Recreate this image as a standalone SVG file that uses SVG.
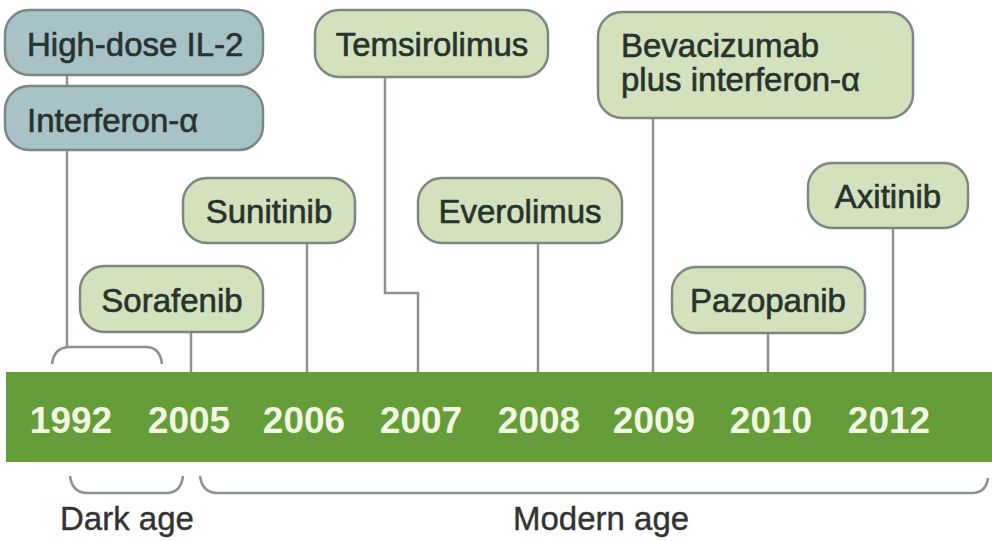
<svg xmlns="http://www.w3.org/2000/svg" width="992" height="541" viewBox="0 0 992 541">
<style>
.box{stroke:#7c8780;stroke-width:2.5}
.blue{fill:#a8c3c6}
.green{fill:#d3e2bd}
.lbl{font-family:"Liberation Sans",Arial,sans-serif;font-size:33px;fill:#26332e;stroke:#26332e;stroke-width:0.6}
.yr{font-family:"Liberation Sans",Arial,sans-serif;font-size:37px;font-weight:bold;fill:#f2f7e3;text-anchor:middle}
.age{font-family:"Liberation Sans",Arial,sans-serif;font-size:33px;fill:#333;stroke:#333;stroke-width:0.4}
.ln{fill:none;stroke:#8c9291;stroke-width:2.5}
</style>
<rect width="992" height="541" fill="#ffffff"/>
<g id="timeline-bar">
<rect x="6" y="372" width="990" height="90" fill="#659d38"/>
<text class="yr" x="71" y="433">1992</text>
<text class="yr" x="189" y="433">2005</text>
<text class="yr" x="304" y="433">2006</text>
<text class="yr" x="421" y="433">2007</text>
<text class="yr" x="539" y="433">2008</text>
<text class="yr" x="654" y="433">2009</text>
<text class="yr" x="771" y="433">2010</text>
<text class="yr" x="889" y="433">2012</text>
</g>
<g id="connectors">
<path class="ln" d="M67 75V86"/>
<path class="ln" d="M67 150V347"/>
<path class="ln" d="M52 364Q54 347 70 347H146Q160 347 162 364"/>
<path class="ln" d="M191 332V372"/>
<path class="ln" d="M307 243V372"/>
<path class="ln" d="M385 77V293H418V372"/>
<path class="ln" d="M538 243V372"/>
<path class="ln" d="M653 118V372"/>
<path class="ln" d="M768 333V372"/>
<path class="ln" d="M893 228V372"/>
<path class="ln" d="M70 476Q72 493 88 493H166Q181 493 183 476"/>
<path class="ln" d="M200 476Q202 493 218 493H972Q986 493 988 478"/>
</g>
<g id="node-il2">
<rect class="box blue" x="5" y="10" width="258" height="65" rx="24"/>
<text class="lbl" x="27" y="56">High-dose IL-2</text>
</g>
<g id="node-interferon">
<rect class="box blue" x="5" y="86" width="258" height="64" rx="24"/>
<text class="lbl" x="27" y="132">Interferon-α</text>
</g>
<g id="node-sorafenib">
<rect class="box green" x="80" y="266" width="183" height="66" rx="24"/>
<text class="lbl" x="172" y="312" text-anchor="middle">Sorafenib</text>
</g>
<g id="node-sunitinib">
<rect class="box green" x="183" y="178" width="172" height="65" rx="24"/>
<text class="lbl" x="269" y="223" text-anchor="middle">Sunitinib</text>
</g>
<g id="node-temsirolimus">
<rect class="box green" x="315" y="10" width="233" height="67" rx="24"/>
<text class="lbl" x="432" y="56" text-anchor="middle">Temsirolimus</text>
</g>
<g id="node-everolimus">
<rect class="box green" x="418" y="178" width="204" height="65" rx="24"/>
<text class="lbl" x="520" y="223" text-anchor="middle">Everolimus</text>
</g>
<g id="node-bevacizumab">
<rect class="box green" x="598" y="12" width="315" height="106" rx="24"/>
<text class="lbl" x="621" y="57">Bevacizumab</text>
<text class="lbl" x="621" y="91">plus interferon-α</text>
</g>
<g id="node-pazopanib">
<rect class="box green" x="672" y="267" width="193" height="66" rx="24"/>
<text class="lbl" x="768" y="312" text-anchor="middle">Pazopanib</text>
</g>
<g id="node-axitinib">
<rect class="box green" x="808" y="163" width="160" height="65" rx="24"/>
<text class="lbl" x="888" y="208" text-anchor="middle">Axitinib</text>
</g>
<g id="ages">
<text class="age" x="60" y="530">Dark age</text>
<text class="age" x="513" y="530">Modern age</text>
</g>
</svg>
